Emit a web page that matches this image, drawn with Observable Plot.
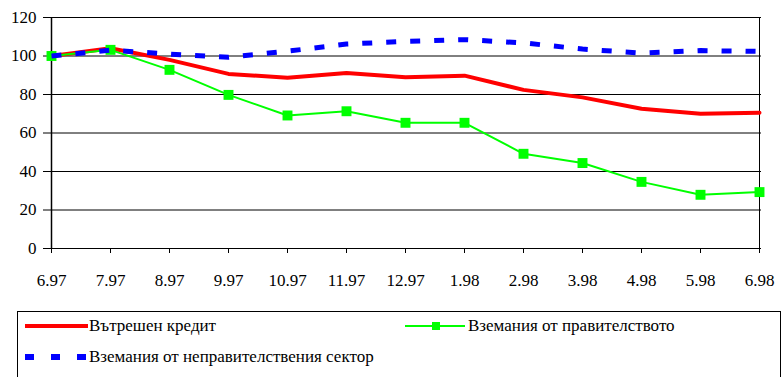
<!DOCTYPE html>
<html><head><meta charset="utf-8">
<script src="https://cdn.jsdelivr.net/npm/d3@7"></script>
<script src="https://cdn.jsdelivr.net/npm/@observablehq/plot@0.6"></script>
<style>
body{margin:0;background:#fff;}
#wrap{position:relative;width:782px;height:377px;overflow:hidden;}
#legend{position:absolute;left:17px;top:311px;width:764px;height:80px;border:1px solid #000;box-sizing:border-box;font-size:17px;}
.item{position:absolute;display:flex;align-items:center;white-space:nowrap;}
</style></head>
<body><div id="wrap"><div id="chart"></div><div id="legend"></div></div>
<script>
const months = ["6.97","7.97","8.97","9.97","10.97","11.97","12.97","1.98","2.98","3.98","4.98","5.98","6.98"];
const domesticCredit = [100,104,98,90.7,88.7,91.2,89,89.8,82.4,78.5,72.6,70,70.5];
const govClaims = [100,103.2,92.8,79.8,69.1,71.3,65.3,65.3,49.2,44.4,34.6,27.9,29.3];
const nonGovClaims = [100,103,101,99.3,102.5,106.2,107.6,108.5,106.8,103.6,101.5,102.8,102.4];
const seriesNames = ["Вътрешен кредит","Вземания от правителството","Вземания от неправителствения сектор"];
const yTicks = [0,20,40,60,80,100,120];

const rows = (vals) => months.map((m,i)=>({m, v: vals[i]}));
const red = rows(domesticCredit), green = rows(govClaims), blue = rows(nonGovClaims);

const chart = Plot.plot({
  width: 782, height: 298,
  marginLeft: 48, marginRight: 21, marginTop: 17, marginBottom: 50,
  style: {fontSize: "17px", color: "#000", background: "#fff"},
  x: {type: "point", domain: months, padding: 0, label: null},
  y: {domain: [0,120], ticks: yTicks, label: null},
  marks: [
    Plot.ruleY(yTicks, {stroke: "#000", strokeWidth: 1}),
    Plot.ruleX([months[months.length-1]], {stroke: "#000", strokeWidth: 1}),
    Plot.ruleX([months[0]], {stroke: "#000", strokeWidth: 1.5}),
    Plot.axisX({tickSize: 5, tickPadding: 20, fontSize: 17, tickFormat: d=>d, stroke:"#000"}),
    Plot.axisY({tickSize: 5, tickPadding: 7, fontSize: 17, ticks: yTicks}),
    Plot.line(red, {x: "m", y: "v", stroke: "#ff0000", strokeWidth: 4}),
    Plot.line(green, {x: "m", y: "v", stroke: "#00ff00", strokeWidth: 2}),
    Plot.dot(green, {x: "m", y: "v", symbol: "square", r: 5.6, fill: "#00ff00", stroke: "none"}),
    Plot.line(blue, {x: "m", y: "v", stroke: "#0000ff", strokeWidth: 5, strokeDasharray: "10,14", strokeLinecap: "butt", strokeLinejoin: "miter"})
  ]
});
document.getElementById("chart").appendChild(chart);

const lg = document.getElementById("legend");
function item(left, top, swatch, text){
  const d = document.createElement("div");
  d.className = "item"; d.style.left = left+"px"; d.style.top = top+"px";
  d.innerHTML = swatch + "<span>"+text+"</span>";
  lg.appendChild(d);
}
item(7, 4, '<svg width="64" height="14"><line x1="0" y1="7" x2="63" y2="7" stroke="#ff0000" stroke-width="4"/></svg>', seriesNames[0]);
item(387, 4, '<svg width="63" height="14"><line x1="0" y1="7" x2="60" y2="7" stroke="#00ff00" stroke-width="2"/><rect x="27" y="3" width="8" height="8" fill="#00ff00"/></svg>', seriesNames[1]);
item(7, 35, '<svg width="64" height="14"><line x1="0" y1="7" x2="63" y2="7" stroke="#0000ff" stroke-width="6" stroke-dasharray="9,17"/></svg>', seriesNames[2]);

function forceFont(){
  document.querySelectorAll("body, #wrap, #legend, .item, span, svg, g, text, tspan").forEach(el => {
    el.style.setProperty("font-family", "'Liberation Serif'", "important");
  });
}
forceFont();
document.addEventListener("DOMContentLoaded", forceFont);
window.addEventListener("load", forceFont);
</script></body></html>
